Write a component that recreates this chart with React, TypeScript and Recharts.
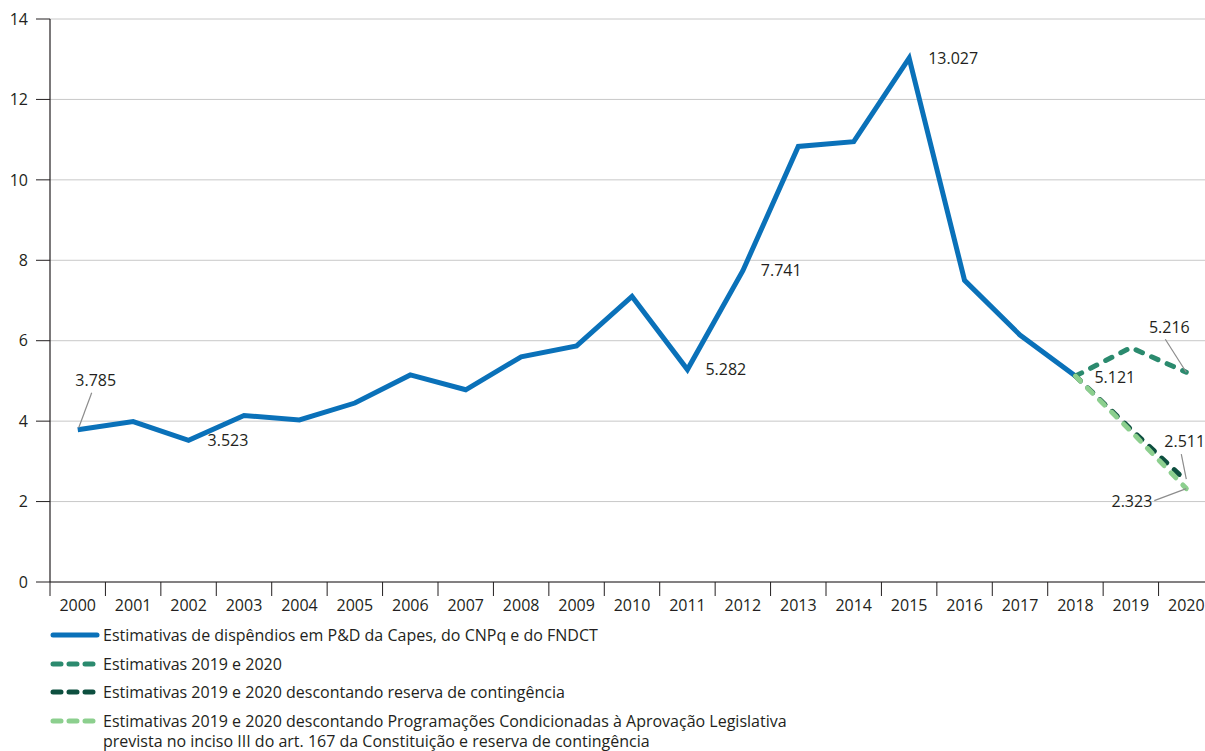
import React from 'react';
import { LineChart, Line, XAxis, YAxis, CartesianGrid } from 'recharts';

const years = [
  '2000', '2001', '2002', '2003', '2004', '2005', '2006', '2007', '2008', '2009', '2010',
  '2011', '2012', '2013', '2014', '2015', '2016', '2017', '2018', '2019', '2020',
];
const spending = [
  3.785, 3.99, 3.523, 4.14, 4.03, 4.45, 5.15, 4.78, 5.6, 5.87, 7.1,
  5.282, 7.741, 10.83, 10.95, 13.027, 7.5, 6.14, 5.121, null, null,
];
const estimates = [...Array(18).fill(null), 5.121, 5.83, 5.216];
const estimatesNoReserve = [...Array(18).fill(null), 5.121, 3.8, 2.511];
const estimatesNoPlo = [...Array(18).fill(null), 5.121, 3.75, 2.323];
const yTicks = [0, 2, 4, 6, 8, 10, 12, 14];

const legendItems = [
  { label: 'Estimativas de dispêndios em P&D da Capes, do CNPq e do FNDCT', color: '#0a71b9', dashed: false },
  { label: 'Estimativas 2019 e 2020', color: '#2b8a6e', dashed: true },
  { label: 'Estimativas 2019 e 2020 descontando reserva de contingência', color: '#0d4f3f', dashed: true },
  {
    label: 'Estimativas 2019 e 2020 descontando Programações Condicionadas à Aprovação Legislativa',
    label2: 'prevista no inciso III do art. 167 da Constituição e reserva de contingência',
    color: '#8ccf8e',
    dashed: true,
  },
];

const data = years.map((year, i) => ({
  i,
  year,
  spending: spending[i],
  estimates: estimates[i],
  estimatesNoReserve: estimatesNoReserve[i],
  estimatesNoPlo: estimatesNoPlo[i],
}));

const FONT = '"Open Sans", sans-serif';
const FS = 16;
const TEXT = '#231f20';
const CHART_W = 1214;
const Y_AXIS_W = 50;
const BAND = (CHART_W - Y_AXIS_W) / years.length;

// where each labelled point puts its number: dx/dy to text, anchor, optional leader line
type LabelSpec = { dx: number; dy: number; anchor: 'start' | 'middle' | 'end'; leader?: [number, number, number, number] };

const spendingLabels: Record<number, LabelSpec> = {
  0: { dx: 18, dy: -50, anchor: 'middle', leader: [1, -2, 14, -37] },
  2: { dx: 19, dy: 0, anchor: 'start' },
  11: { dx: 18, dy: 0, anchor: 'start' },
  12: { dx: 18, dy: 0, anchor: 'start' },
  15: { dx: 19, dy: 0, anchor: 'start' },
  18: { dx: 19, dy: 1, anchor: 'start' },
};
const estimateLabels: Record<number, LabelSpec> = {
  20: { dx: -17, dy: -45, anchor: 'middle', leader: [-21, -33, 0, 0] },
};
const noReserveLabels: Record<number, LabelSpec> = {
  20: { dx: -22, dy: -40, anchor: 'start', leader: [-5, -27, 0, -2] },
};
const noPloLabels: Record<number, LabelSpec> = {
  20: { dx: -34, dy: 12.5, anchor: 'end', leader: [-32, 12, 0, 0] },
};

const makeLabel = (specs: Record<number, LabelSpec>) => (props: any) => {
  const { x, y, index, value } = props;
  const spec = specs[index];
  if (!spec || value == null) return null;
  return (
    <g key={`lbl-${index}`}>
      {spec.leader && (
        <line
          x1={x + spec.leader[0]}
          y1={y + spec.leader[1]}
          x2={x + spec.leader[2]}
          y2={y + spec.leader[3]}
          stroke="#8c8c8c"
          strokeWidth={1.2}
        />
      )}
      <text
        x={x + spec.dx}
        y={y + spec.dy}
        dy="0.36em"
        textAnchor={spec.anchor}
        fontFamily={FONT}
        fontSize={FS}
        fill={TEXT}
      >
        {Number(value).toFixed(3)}
      </text>
    </g>
  );
};

const YearTick = (props: any) => {
  const { x, y, payload } = props;
  const left = x - BAND / 2;
  return (
    <g>
      <line x1={left} y1={y} x2={left} y2={y + 14} stroke={TEXT} strokeWidth={1} />
      <text x={x} y={y + 29} textAnchor="middle" fontFamily={FONT} fontSize={FS} fill={TEXT}>
        {years[payload.value]}
      </text>
    </g>
  );
};

const LegendSwatch: React.FC<{ color: string; dashed: boolean }> = ({ color, dashed }) => (
  <svg width={50} height={10} style={{ display: 'block' }}>
    <line
      x1={3}
      y1={5}
      x2={47}
      y2={5}
      stroke={color}
      strokeWidth={5}
      strokeLinecap="round"
      strokeDasharray={dashed ? '8 8' : undefined}
    />
  </svg>
);

const App: React.FC = () => {
  return (
    <div
      style={{
        position: 'absolute',
        left: 0,
        top: 0,
        width: 1205,
        height: 751,
        overflow: 'hidden',
        background: '#fff',
        fontFamily: FONT,
      }}
    >
      <LineChart width={CHART_W} height={620} data={data} margin={{ top: 19, right: 0, bottom: 0, left: 0 }}>
        <CartesianGrid horizontal vertical={false} stroke="#c8c8c8" strokeWidth={1} />
        <XAxis
          dataKey="i"
          type="number"
          domain={[-0.5, 20.5]}
          ticks={years.map((_, i) => i)}
          interval={0}
          height={38}
          tickSize={0}
          tickMargin={0}
          tickLine={false}
          tick={<YearTick />}
          axisLine={{ stroke: TEXT, strokeWidth: 1.2 }}
        />
        <YAxis
          type="number"
          domain={[0, 14]}
          ticks={yTicks}
          interval={0}
          width={Y_AXIS_W}
          tickSize={14}
          tickMargin={8}
          tickLine={{ stroke: TEXT, strokeWidth: 1 }}
          axisLine={{ stroke: TEXT, strokeWidth: 1.2 }}
          tick={{ fill: TEXT, fontSize: FS, fontFamily: FONT }}
        />
        <Line
          dataKey="spending"
          stroke="#0a71b9"
          strokeWidth={5}
          dot={false}
          connectNulls={false}
          isAnimationActive={false}
          label={makeLabel(spendingLabels)}
        />
        <Line
          dataKey="estimates"
          stroke="#2b8a6e"
          strokeWidth={5}
          strokeDasharray="7 10"
          strokeLinecap="round"
          dot={false}
          isAnimationActive={false}
          label={makeLabel(estimateLabels)}
        />
        <Line
          dataKey="estimatesNoReserve"
          stroke="#0d4f3f"
          strokeWidth={5}
          strokeDasharray="7 10"
          strokeLinecap="round"
          dot={false}
          isAnimationActive={false}
          label={makeLabel(noReserveLabels)}
        />
        <Line
          dataKey="estimatesNoPlo"
          stroke="#8ccf8e"
          strokeWidth={5}
          strokeDasharray="7 10"
          strokeLinecap="round"
          dot={false}
          isAnimationActive={false}
          label={makeLabel(noPloLabels)}
        />
      </LineChart>
      {legendItems.map((item, k) => (
        <div
          key={item.label}
          style={{
            position: 'absolute',
            left: 50,
            top: 625 + k * 28.5,
            display: 'flex',
            alignItems: 'flex-start',
            fontSize: FS,
            color: TEXT,
            lineHeight: '20px',
          }}
        >
          <div style={{ marginTop: 5 }}>
            <LegendSwatch color={item.color} dashed={item.dashed} />
          </div>
          <div style={{ marginLeft: 3 }}>
            <div>{item.label}</div>
            {item.label2 && <div>{item.label2}</div>}
          </div>
        </div>
      ))}
    </div>
  );
};

export default App;
